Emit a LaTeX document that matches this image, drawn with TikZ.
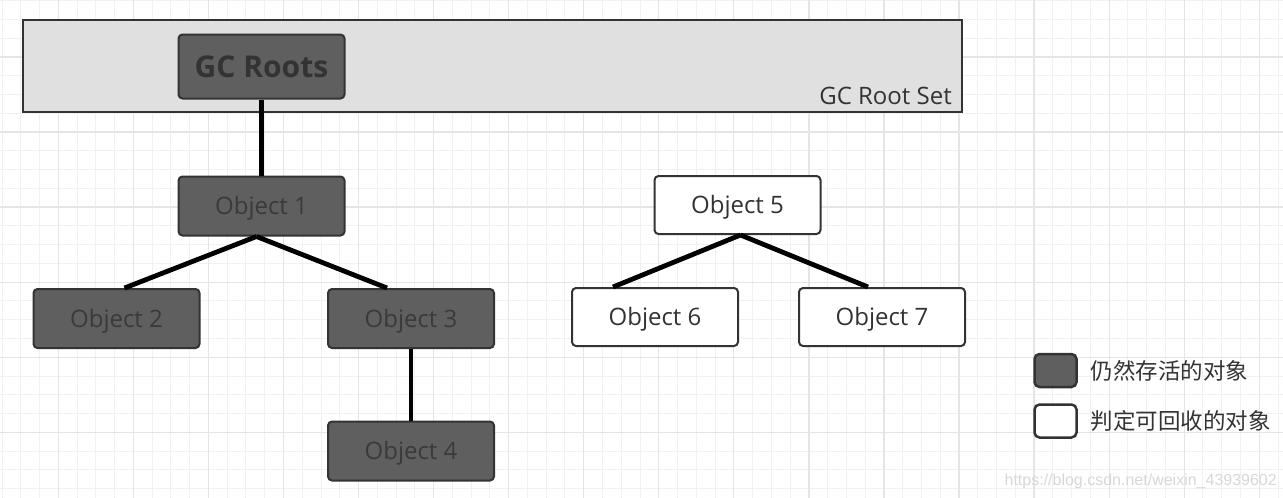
\documentclass[tikz,border=0pt]{standalone}
\usepackage{fontspec}
\setmainfont{Open Sans}
\newfontfamily\cjk{Noto Sans CJK SC}
\newfontfamily\wmfont{Liberation Sans}
\usetikzlibrary{positioning}

\definecolor{liveFill}{HTML}{5F5F5F}
\definecolor{liveText}{HTML}{3A3A3A}
\definecolor{boxBorder}{HTML}{333333}
\definecolor{setFill}{HTML}{E0E0E0}
\definecolor{minorGrid}{HTML}{F1F1F1}
\definecolor{majorGrid}{HTML}{E5E5E5}
\definecolor{markText}{HTML}{D8D8D8}

\tikzset{
  objBox/.style={draw=boxBorder, line width=2pt, rounded corners=4pt,
    minimum width=166pt, minimum height=59pt, inner sep=0pt,
    text height=17pt, text depth=0pt,
    font=\fontsize{24}{28}\selectfont},
  liveObject/.style={objBox, fill=liveFill, text=liveText},
  deadObject/.style={objBox, fill=white, text=boxBorder},
  legendBox/.style={draw=boxBorder, line width=2.5pt, rounded corners=5pt,
    minimum width=42pt, minimum height=33pt, inner sep=0pt},
  legendText/.style={inner sep=0pt, text=boxBorder,
    font=\cjk\fontsize{22.5}{26}\selectfont},
  refLine/.style={line width=4.8pt, black},
}

\begin{document}
\begin{tikzpicture}[x=1pt, y=-1pt]
  \useasboundingbox[fill=white] (0,0) rectangle (1283,498);

  % background grid
  \foreach \i in {0,...,68} {
    \pgfmathsetmacro\gx{2+18.765*\i}
    \draw[minorGrid, line width=1pt] (\gx,0) -- (\gx,498);
  }
  \foreach \j in {0,...,26} {
    \pgfmathsetmacro\gy{0.7+18.765*\j}
    \draw[minorGrid, line width=1pt] (0,\gy) -- (1283,\gy);
  }
  \foreach \i in {0,...,16} {
    \pgfmathsetmacro\gx{58.3+75.06*\i}
    \draw[majorGrid, line width=1.3pt] (\gx,0) -- (\gx,498);
  }
  \foreach \j in {0,...,5} {
    \pgfmathsetmacro\gy{57+75.06*\j}
    \draw[majorGrid, line width=1.3pt] (0,\gy) -- (1283,\gy);
  }

  % root set
  \draw[boxBorder, fill=setFill, line width=2.5pt] (23,20) rectangle (962,112);
  \node[anchor=east, inner sep=0pt, text=boxBorder, text height=17pt, text depth=0pt,
    font=\fontsize{24}{28}\selectfont] (rootSetLabel) at (952,96) {GC Root Set};

  \node[liveObject, minimum height=64pt, text=boxBorder, text height=21.5pt,
    font=\bfseries\fontsize{30}{34}\selectfont] (gcRoots) at (261.5,66.5) {GC Roots};

  % reachable objects
  \node[liveObject] (object1) at (261.5,206) {Object 1};
  \node[liveObject] (object2) at (116.5,318.5) {Object 2};
  \node[liveObject] (object3) at (411,318.5) {Object 3};
  \node[liveObject] (object4) at (411,451) {Object 4};

  % unreachable objects
  \node[deadObject, minimum height=58pt] (object5) at (737.5,205) {Object 5};
  \node[deadObject, minimum height=58pt] (object6) at (655,317) {Object 6};
  \node[deadObject, minimum height=58pt] (object7) at (882,317) {Object 7};

  % references
  \draw[refLine] (gcRoots.south) -- (object1.north);
  \draw[refLine] ([xshift=-5pt]object1.south) -- ([xshift=8pt]object2.north);
  \draw[refLine] ([xshift=-5pt]object1.south) -- ([xshift=-24pt]object3.north);
  \draw[refLine] (object3.south) -- (object4.north);
  \draw[refLine] ([xshift=3pt]object5.south) -- ([xshift=-42pt]object6.north);
  \draw[refLine] ([xshift=3pt]object5.south) -- ([xshift=-14pt]object7.north);

  % legend
  \node[legendBox, fill=liveFill] (legendLive) at (1055.5,370.5) {};
  \node[legendBox, fill=white] (legendDead) at (1055.5,421) {};
  \node[legendText, anchor=west, right=13pt of legendLive] (legendLiveText) {仍然存活的对象};
  \node[legendText, anchor=west, right=13pt of legendDead] (legendDeadText) {判定可回收的对象};

  \node[anchor=east, inner sep=0pt, text=markText,
    font=\wmfont\fontsize{16}{18}\selectfont] (watermark) at (1277,481)
    {https://blog.csdn.net/weixin\_43939602};
\end{tikzpicture}
\end{document}
